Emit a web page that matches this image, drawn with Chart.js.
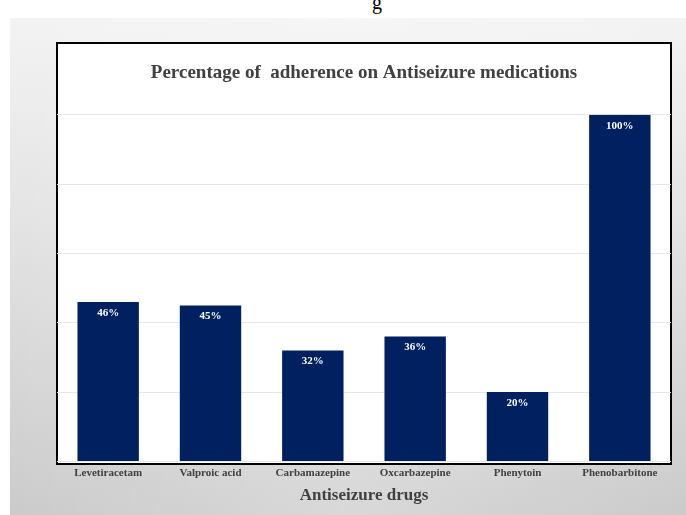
<!DOCTYPE html>
<html>
<head>
<meta charset="utf-8">
<script src="https://cdn.jsdelivr.net/npm/chart.js@4"></script>
<style>
  html, body { margin: 0; padding: 0; background: #fff; }
  #page { position: relative; width: 686px; height: 515px; overflow: hidden; background: #fff; }
  #bg {
    position: absolute; left: 10px; top: 18px; right: 0; bottom: 0;
    background: linear-gradient(to bottom, #f3f3f3 0%, #e2e2e2 45%, #cbcbcb 100%);
  }
  #bg::after {
    content: ''; position: absolute; inset: 0;
    background: linear-gradient(to right, rgba(255,255,255,0.0), rgba(255,255,255,0.25) 50%, rgba(255,255,255,0.0));
  }
  #cap {
    position: absolute; left: 372px; top: -9px;
    font: 20px "Liberation Serif", serif; color: #000;
  }
  #frame {
    position: absolute; left: 56px; top: 42px; width: 612px; height: 419px;
    border: 2px solid #000; background: #fff;
  }
  #chart { position: absolute; left: 0; top: 0; }
</style>
</head>
<body>
<div id="page">
  <div id="cap">g</div>
  <div id="bg"></div>
  <div id="frame"></div>
  <canvas id="chart" width="686" height="515"></canvas>
</div>
<script>
( function () {
    'use strict';

    var drugs = [ 'Levetiracetam', 'Valproic acid', 'Carbamazepine', 'Oxcarbazepine', 'Phenytoin', 'Phenobarbitone' ];
    var adherence = [ 46, 45, 32, 36, 20, 100 ];

    var serif = '"Liberation Serif", "Times New Roman", serif';

    // white % labels just inside the top of each bar
    var barLabels = {
        id: 'barLabels',
        afterDatasetsDraw: function ( chart ) {
            var ctx = chart.ctx;
            var meta = chart.getDatasetMeta( 0 );
            ctx.save();
            ctx.fillStyle = '#ffffff';
            ctx.font = 'bold 11px ' + serif;
            ctx.textAlign = 'center';
            ctx.textBaseline = 'middle';
            meta.data.forEach( function ( bar, i ) {
                ctx.fillText( adherence[ i ] + '%', bar.x, bar.y + 11 );
            } );
            ctx.restore();
        }
    };

    new Chart( document.getElementById( 'chart' ), {
        type: 'bar',
        data: {
            labels: drugs,
            datasets: [ {
                data: adherence,
                backgroundColor: '#002060',
                borderWidth: 0,
                categoryPercentage: 1,
                barPercentage: 0.6
            } ]
        },
        options: {
            responsive: false,
            animation: false,
            layout: { padding: { left: 57, right: 15, top: 43, bottom: 7 } },
            plugins: {
                legend: { display: false },
                tooltip: { enabled: false },
                title: {
                    display: true,
                    text: 'Percentage of  adherence on Antiseizure medications',
                    color: '#404040',
                    font: { family: serif, size: 19, weight: 'bold' },
                    padding: { top: 19, bottom: 30 }
                }
            },
            scales: {
                x: {
                    grid: { display: false, drawTicks: false },
                    border: { display: false },
                    ticks: {
                        color: '#404040',
                        padding: 5,
                        maxRotation: 0,
                        autoSkip: false,
                        font: { family: serif, size: 11, weight: 'bold' }
                    },
                    title: {
                        display: true,
                        text: 'Antiseizure drugs',
                        color: '#404040',
                        font: { family: serif, size: 17, weight: 'bold' },
                        padding: { top: 1, bottom: 2 }
                    }
                },
                y: {
                    min: 0,
                    max: 100,
                    ticks: { display: false, stepSize: 20 },
                    grid: { color: '#e6e6e6', drawTicks: false },
                    border: { display: false }
                }
            }
        },
        plugins: [ barLabels ]
    } );
} )();
</script>
</body>
</html>
